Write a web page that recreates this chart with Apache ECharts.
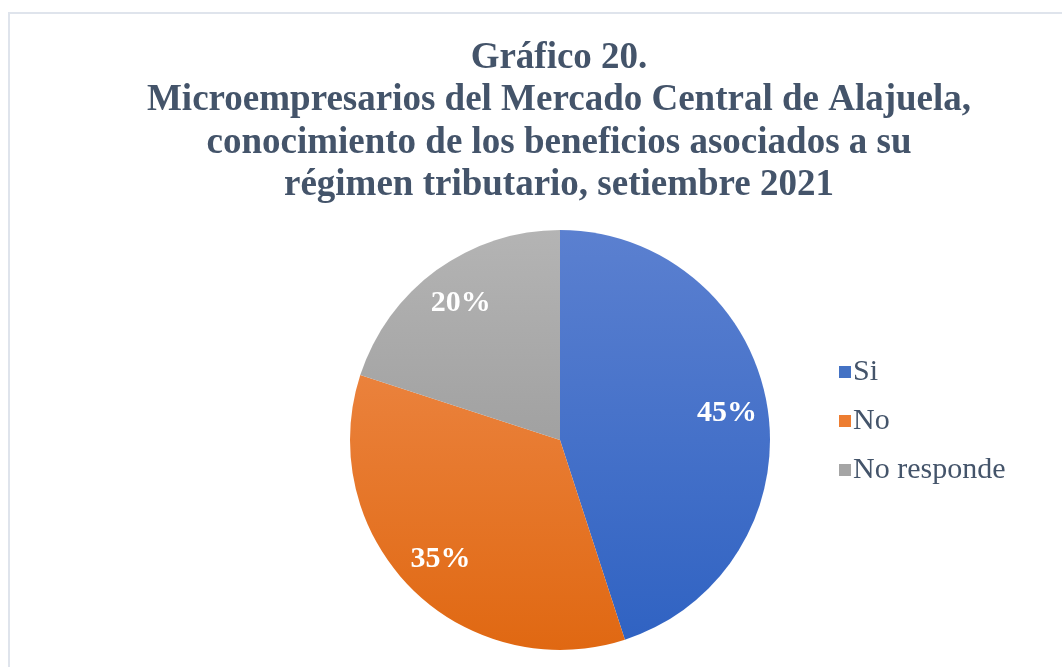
<!DOCTYPE html>
<html>
<head>
<meta charset="utf-8">
<script src="https://cdn.jsdelivr.net/npm/echarts@6/dist/echarts.min.js"></script>
<style>
  html, body { margin: 0; padding: 0; background: #fff; }
  #chart { width: 1062px; height: 667px; }
</style>
</head>
<body>
<div id="chart"></div>
<script>
const categories = ['Si', 'No', 'No responde']
const values = [45, 35, 20]
const titleLines = [
  'Gráfico 20.',
  'Microempresarios del Mercado Central de Alajuela,',
  'conocimiento de los beneficios asociados a su',
  'régimen tributario, setiembre 2021',
]

// gradient stops per slice (top -> bottom)
const sliceColors = [
  ['#5b80d0', '#2f62c2'],
  ['#f08f52', '#e06812'],
  ['#b4b4b4', '#8e8e8e'],
]
const legendColors = ['#4472c4', '#ed7d31', '#a5a5a5']

const cx = 560
const cy = 440
const r = 210

const grad = (c) => new echarts.graphic.LinearGradient(0, cy - r, 0, cy + r, [
  { offset: 0, color: c[0] },
  { offset: 1, color: c[1] },
], true)

const chart = echarts.init(document.getElementById('chart'))

chart.setOption({
  animation: false,
  title: {
    text: titleLines.join('\n'),
    left: 554,
    top: 32,
    textAlign: 'center',
    textStyle: {
      fontFamily: 'Liberation Serif',
      fontWeight: 'bold',
      fontSize: 37,
      lineHeight: 42.5,
      color: '#44546a',
    },
  },
  legend: {
    orient: 'vertical',
    left: 834,
    top: 352,
    itemWidth: 12,
    itemHeight: 12,
    itemGap: 19,
    icon: 'rect',
    data: categories.map((c, i) => ({ name: c, itemStyle: { color: legendColors[i] } })),
    textStyle: {
      fontFamily: 'Liberation Serif',
      fontSize: 30,
      color: '#44546a',
      padding: [0, 0, 0, -3],
    },
  },
  graphic: [
    {
      type: 'rect',
      shape: { x: 9, y: 13, width: 1070, height: 700 },
      style: { fill: 'none', stroke: '#dfe4ec', lineWidth: 2 },
      silent: true,
    },
  ],
  series: [
    {
      type: 'pie',
      center: [cx, cy],
      radius: [0, r],
      startAngle: 90,
      clockwise: true,
      label: { show: false },
      labelLine: { show: false },
      emphasis: { disabled: true },
      data: categories.map((c, i) => ({
        name: c,
        value: values[i],
        itemStyle: { color: grad(sliceColors[i]) },
      })),
    },
    {
      // transparent ring used only to place the percentage labels
      type: 'pie',
      center: [cx, cy],
      radius: [122, r],
      startAngle: 90,
      clockwise: true,
      silent: true,
      itemStyle: { color: 'rgba(0,0,0,0)' },
      label: {
        show: true,
        position: 'inside',
        formatter: '{c}%',
        fontFamily: 'Liberation Serif',
        fontWeight: 'bold',
        fontSize: 30,
        color: '#ffffff',
      },
      labelLine: { show: false },
      data: categories.map((c, i) => ({ name: c + ' ', value: values[i] })),
    },
  ],
})
</script>
</body>
</html>
